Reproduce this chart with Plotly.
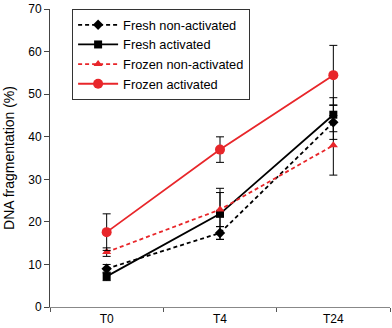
import plotly.graph_objects as go

categories = ["T0", "T4", "T24"]
fresh_non = [9.0, 17.4, 43.4]
fresh_non_err = [1.0, 1.5, 4.0]
fresh_act = [7.2, 21.9, 45.2]
fresh_act_err = [1.0, 6.0, 4.0]
frozen_non = [12.9, 22.9, 38.0]
frozen_non_err = [1.0, 4.0, 7.0]
frozen_act = [17.6, 37.0, 54.5]
frozen_act_err = [4.3, 3.0, 7.0]
y_ticks = [0, 10, 20, 30, 40, 50, 60, 70]

RED = "#e8262a"
series = [
    ("Fresh non-activated", fresh_non, fresh_non_err, "black", "4px,3px", "diamond", 8),
    ("Fresh activated", fresh_act, fresh_act_err, "black", "solid", "square", 8),
    ("Frozen non-activated", frozen_non, frozen_non_err, RED, "4px,3px", "triangle-up", 8),
    ("Frozen activated", frozen_act, frozen_act_err, RED, "solid", "circle", 10),
]

fig = go.Figure()
for name, y, e, col, dash, sym, sz in series:
    fig.add_trace(go.Scatter(
        x=categories, y=y, name=name, mode="lines+markers",
        line=dict(color=col, width=1.8, dash=dash),
        marker=dict(symbol=sym, size=sz, color=col),
        error_y=dict(type="data", array=e, visible=True, color="black", thickness=1, width=4),
    ))

fig.update_layout(
    width=392, height=328,
    margin=dict(l=50, r=2, t=5, b=20),
    paper_bgcolor="white", plot_bgcolor="white",
    font=dict(family="Liberation Sans, Arial, sans-serif", size=12, color="black"),
    showlegend=True,
    legend=dict(x=0.065, y=1.0, xanchor="left", yanchor="top",
                bordercolor="#333", borderwidth=1, bgcolor="white",
                font=dict(size=12.8), tracegroupgap=0, itemwidth=40),
    xaxis=dict(type="category", range=[-0.5, 2.5], tickson="boundaries",
               showline=True, linecolor="#888", linewidth=1.2,
               ticks="outside", ticklen=4, tickcolor="#555", showgrid=False,
               tickfont=dict(size=12), ticklabeloverflow="allow"),
    yaxis=dict(range=[0, 70.05], tickvals=y_ticks,
               showline=True, linecolor="#444", linewidth=1,
               ticks="outside", ticklen=5, tickcolor="#444", showgrid=False,
               zeroline=False, tickfont=dict(size=12), ticklabeloverflow="allow",
               title=dict(text="DNA fragmentation (%)", standoff=10, font=dict(size=14))),
)

fig.write_html("out.html", config={"displayModeBar": False},
               post_script="document.body.style.margin='0';")
